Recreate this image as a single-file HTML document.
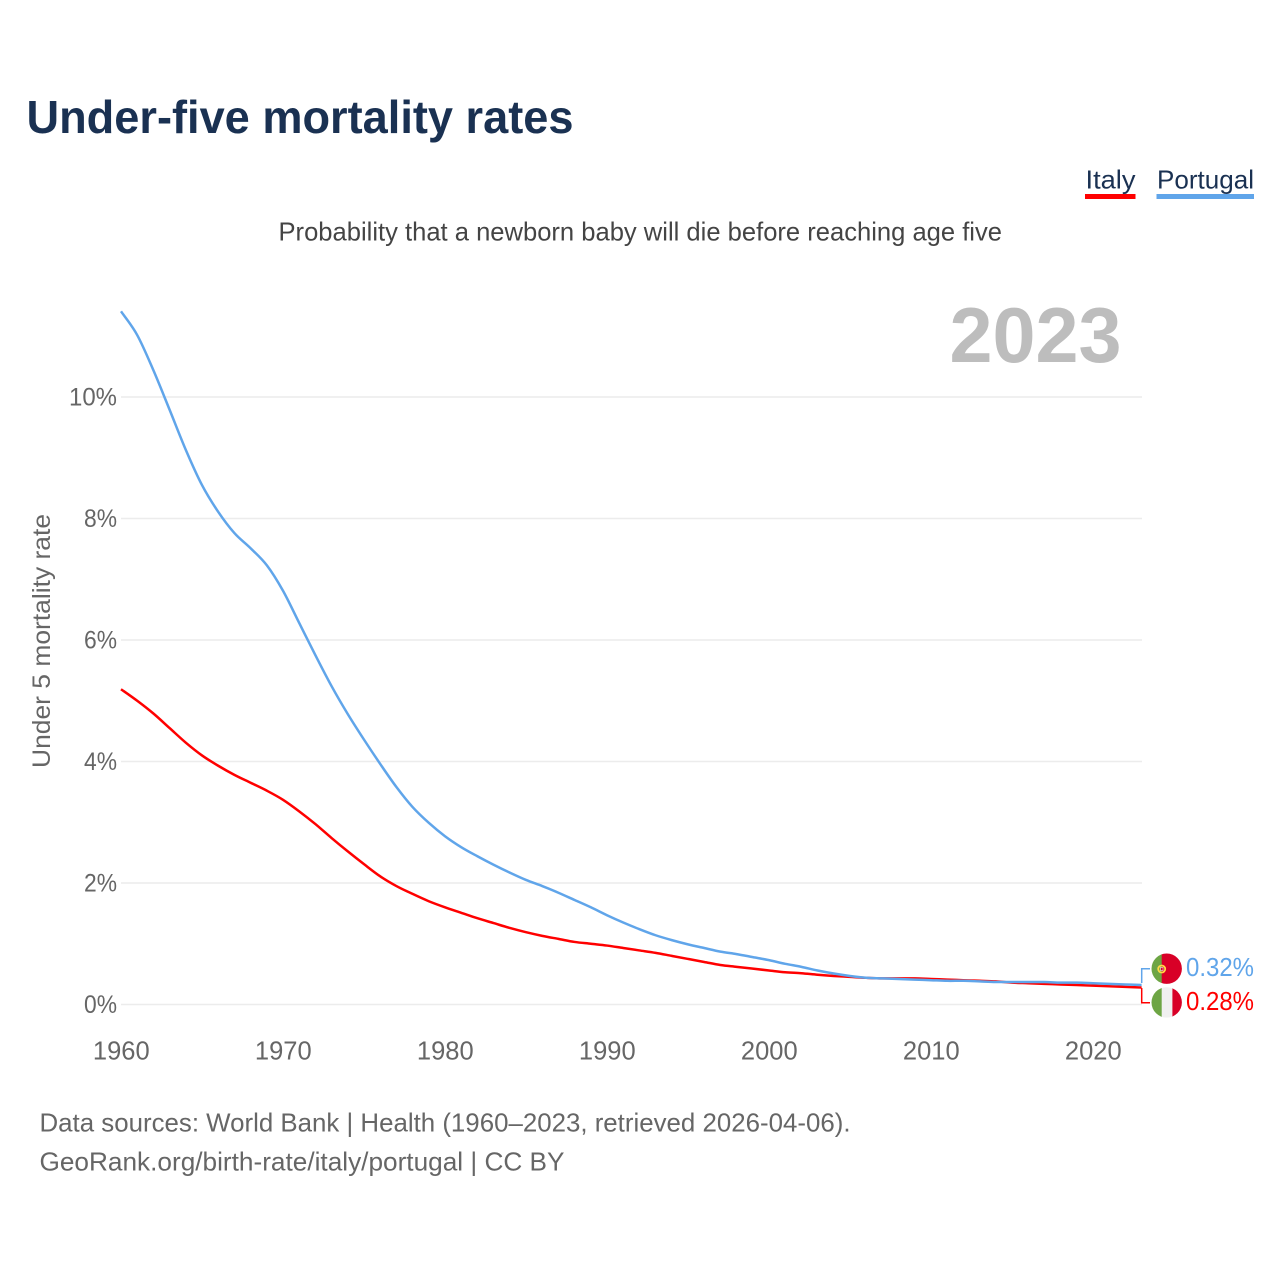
<!DOCTYPE html>
<html lang="en">
<head>
<meta charset="utf-8">
<title>Under-five mortality rates</title>
<style>
html,body{margin:0;padding:0;background:#fff;}
svg{display:block;font-family:"Liberation Sans",sans-serif;}
</style>
</head>
<body>
<svg id="chart" xmlns="http://www.w3.org/2000/svg" width="1280" height="1280" viewBox="0 0 1280 1280">
  <defs>
    <clipPath id="clip-pt"><circle cx="1166.7" cy="968.7" r="15.2"/></clipPath>
    <clipPath id="clip-it"><circle cx="1166.7" cy="1002.4" r="15.2"/></clipPath>
  </defs>
  <rect width="1280" height="1280" fill="#fff"/>
  <text x="26.500" y="133" font-size="46" font-weight="700" fill="#1a3152" textLength="547" lengthAdjust="spacingAndGlyphs">Under-five mortality rates</text>

  <g>
    <text x="1085.500" y="188.500" font-size="26" fill="#1a3152" textLength="50" lengthAdjust="spacingAndGlyphs">Italy</text>
    <rect x="1085" y="194" width="50.500" height="5" fill="#ff0000"/>
  </g>
  <g>
    <text x="1157" y="188.500" font-size="26" fill="#1a3152" textLength="97" lengthAdjust="spacingAndGlyphs">Portugal</text>
    <rect x="1156.500" y="194" width="97.500" height="5" fill="#60a5ea"/>
  </g>

  <text x="278.500" y="240.500" font-size="26" fill="#444444" textLength="723.500" lengthAdjust="spacingAndGlyphs">Probability that a newborn baby will die before reaching age five</text>
  <text x="949.500" y="362" font-size="78" font-weight="700" fill="#bdbdbd" textLength="172" lengthAdjust="spacingAndGlyphs">2023</text>

  <g id="grid"></g>
  <g id="y-ticks"></g>
  <g id="x-ticks"></g>
  <text transform="translate(50 641) rotate(-90)" text-anchor="middle" font-size="25" fill="#666666" textLength="254" lengthAdjust="spacingAndGlyphs">Under 5 mortality rate</text>

  <g id="series"></g>

  <path d="M1141.700 983V968.700H1150" fill="none" stroke="#60a5ea" stroke-width="1.500"/>
  <path d="M1141.700 988V1002.700H1150" fill="none" stroke="#ff0000" stroke-width="1.500"/>

  <g clip-path="url(#clip-pt)">
    <rect x="1150" y="952" width="12" height="34" fill="#6da544"/>
    <rect x="1161.700" y="952" width="22" height="34" fill="#d80027"/>
    <circle cx="1161.700" cy="969" r="3.500" fill="none" stroke="#ffda44" stroke-width="1.800"/>
    <rect x="1160.500" y="967.500" width="2.500" height="3" fill="#d80027" stroke="#f0f0f0" stroke-width="0.600"/>
  </g>
  <g clip-path="url(#clip-it)">
    <rect x="1150" y="986" width="12" height="34" fill="#6da544"/>
    <rect x="1161.700" y="986" width="10.700" height="34" fill="#f0f0f0"/>
    <rect x="1172.400" y="986" width="12" height="34" fill="#d80027"/>
  </g>
  <text x="1186" y="976" font-size="26" fill="#60a5ea" textLength="68" lengthAdjust="spacingAndGlyphs">0.32%</text>
  <text x="1186" y="1010" font-size="26" fill="#ff0000" textLength="68" lengthAdjust="spacingAndGlyphs">0.28%</text>

  <text x="39.500" y="1131.500" font-size="26" fill="#666666" textLength="811" lengthAdjust="spacingAndGlyphs">Data sources: World Bank | Health (1960–2023, retrieved 2026-04-06).</text>
  <text x="39.500" y="1170.500" font-size="26" fill="#666666" textLength="525" lengthAdjust="spacingAndGlyphs">GeoRank.org/birth-rate/italy/portugal | CC BY</text>
</svg>
<script>
const firstYear = 1960;
const yTickValues = [0, 2, 4, 6, 8, 10];
const xTickValues = [1960, 1970, 1980, 1990, 2000, 2010, 2020];
const italyValues = [5.19,5.00,4.79,4.55,4.31,4.10,3.93,3.78,3.65,3.52,3.37,3.18,2.97,2.74,2.52,2.31,2.11,1.95,1.82,1.70,1.60,1.51,1.42,1.34,1.26,1.19,1.13,1.08,1.03,1.00,0.97,0.93,0.89,0.85,0.80,0.75,0.70,0.65,0.62,0.59,0.56,0.53,0.515,0.49,0.47,0.455,0.44,0.43,0.43,0.43,0.42,0.41,0.40,0.39,0.38,0.36,0.35,0.34,0.33,0.32,0.31,0.30,0.29,0.28];
const portugalValues = [11.41,11.02,10.44,9.79,9.13,8.55,8.11,7.76,7.51,7.23,6.81,6.28,5.75,5.24,4.78,4.36,3.96,3.58,3.25,2.99,2.77,2.59,2.44,2.30,2.17,2.05,1.95,1.84,1.72,1.60,1.47,1.35,1.24,1.14,1.06,0.99,0.93,0.87,0.83,0.78,0.73,0.67,0.62,0.56,0.51,0.47,0.44,0.43,0.42,0.41,0.40,0.39,0.39,0.38,0.37,0.37,0.37,0.37,0.36,0.36,0.35,0.34,0.33,0.32];

function xScale(year) { return 121 + (year - 1960) * 16.2; }
function yScale(value) { return 1004.5 - value * 60.75; }

const NS = 'http://www.w3.org/2000/svg';
function make(tag, attrs, parent, text) {
  const el = document.createElementNS(NS, tag);
  for (const k in attrs) el.setAttribute(k, attrs[k]);
  if (text !== undefined) el.textContent = text;
  parent.appendChild(el);
  return el;
}

const gridGroup = document.getElementById('grid');
const yGroup = document.getElementById('y-ticks');
const xGroup = document.getElementById('x-ticks');
const seriesGroup = document.getElementById('series');

yTickValues.forEach(function (v) {
  const line = make('line', { x1: xScale(1960), x2: 1142, y1: yScale(v), y2: yScale(v), stroke: '#ececec', 'stroke-width': 1.5 }, gridGroup);
  
  
  const text = v + '%';
  const label = make('text', { x: 117, y: yScale(v) + 8.5, 'text-anchor': 'end', 'font-size': 25, fill: '#666666', textLength: (text.length - 1) * 15 + 18, lengthAdjust: 'spacingAndGlyphs' }, yGroup, text);
  
  
});

xTickValues.forEach(function (y) {
  const label = make('text', { x: xScale(y) + 0.3, y: 1059.5, 'text-anchor': 'middle', 'font-size': 25.5, fill: '#666666' }, xGroup, String(y));
  
  
});

function linePath(values) {
  const pts = values.map(function (v, i) { return [xScale(firstYear + i), yScale(v)]; });
  let d = 'M' + pts[0][0].toFixed(2) + ' ' + pts[0][1].toFixed(2);
  for (let i = 0; i < pts.length - 1; i++) {
    const p0 = pts[Math.max(i - 1, 0)], p1 = pts[i], p2 = pts[i + 1], p3 = pts[Math.min(i + 2, pts.length - 1)];
    const c1x = p1[0] + (p2[0] - p0[0]) / 6, c1y = p1[1] + (p2[1] - p0[1]) / 6;
    const c2x = p2[0] - (p3[0] - p1[0]) / 6, c2y = p2[1] - (p3[1] - p1[1]) / 6;
    d += 'C' + c1x.toFixed(2) + ' ' + c1y.toFixed(2) + ' ' + c2x.toFixed(2) + ' ' + c2y.toFixed(2) + ' ' + p2[0].toFixed(2) + ' ' + p2[1].toFixed(2);
  }
  return d;
}

const italyLine = make('path', { d: linePath(italyValues), fill: 'none', stroke: '#ff0000', 'stroke-width': 2.5, 'stroke-linejoin': 'round' }, seriesGroup);



const portugalLine = make('path', { d: linePath(portugalValues), fill: 'none', stroke: '#60a5ea', 'stroke-width': 2.5, 'stroke-linejoin': 'round' }, seriesGroup);


</script>
</body>
</html>
